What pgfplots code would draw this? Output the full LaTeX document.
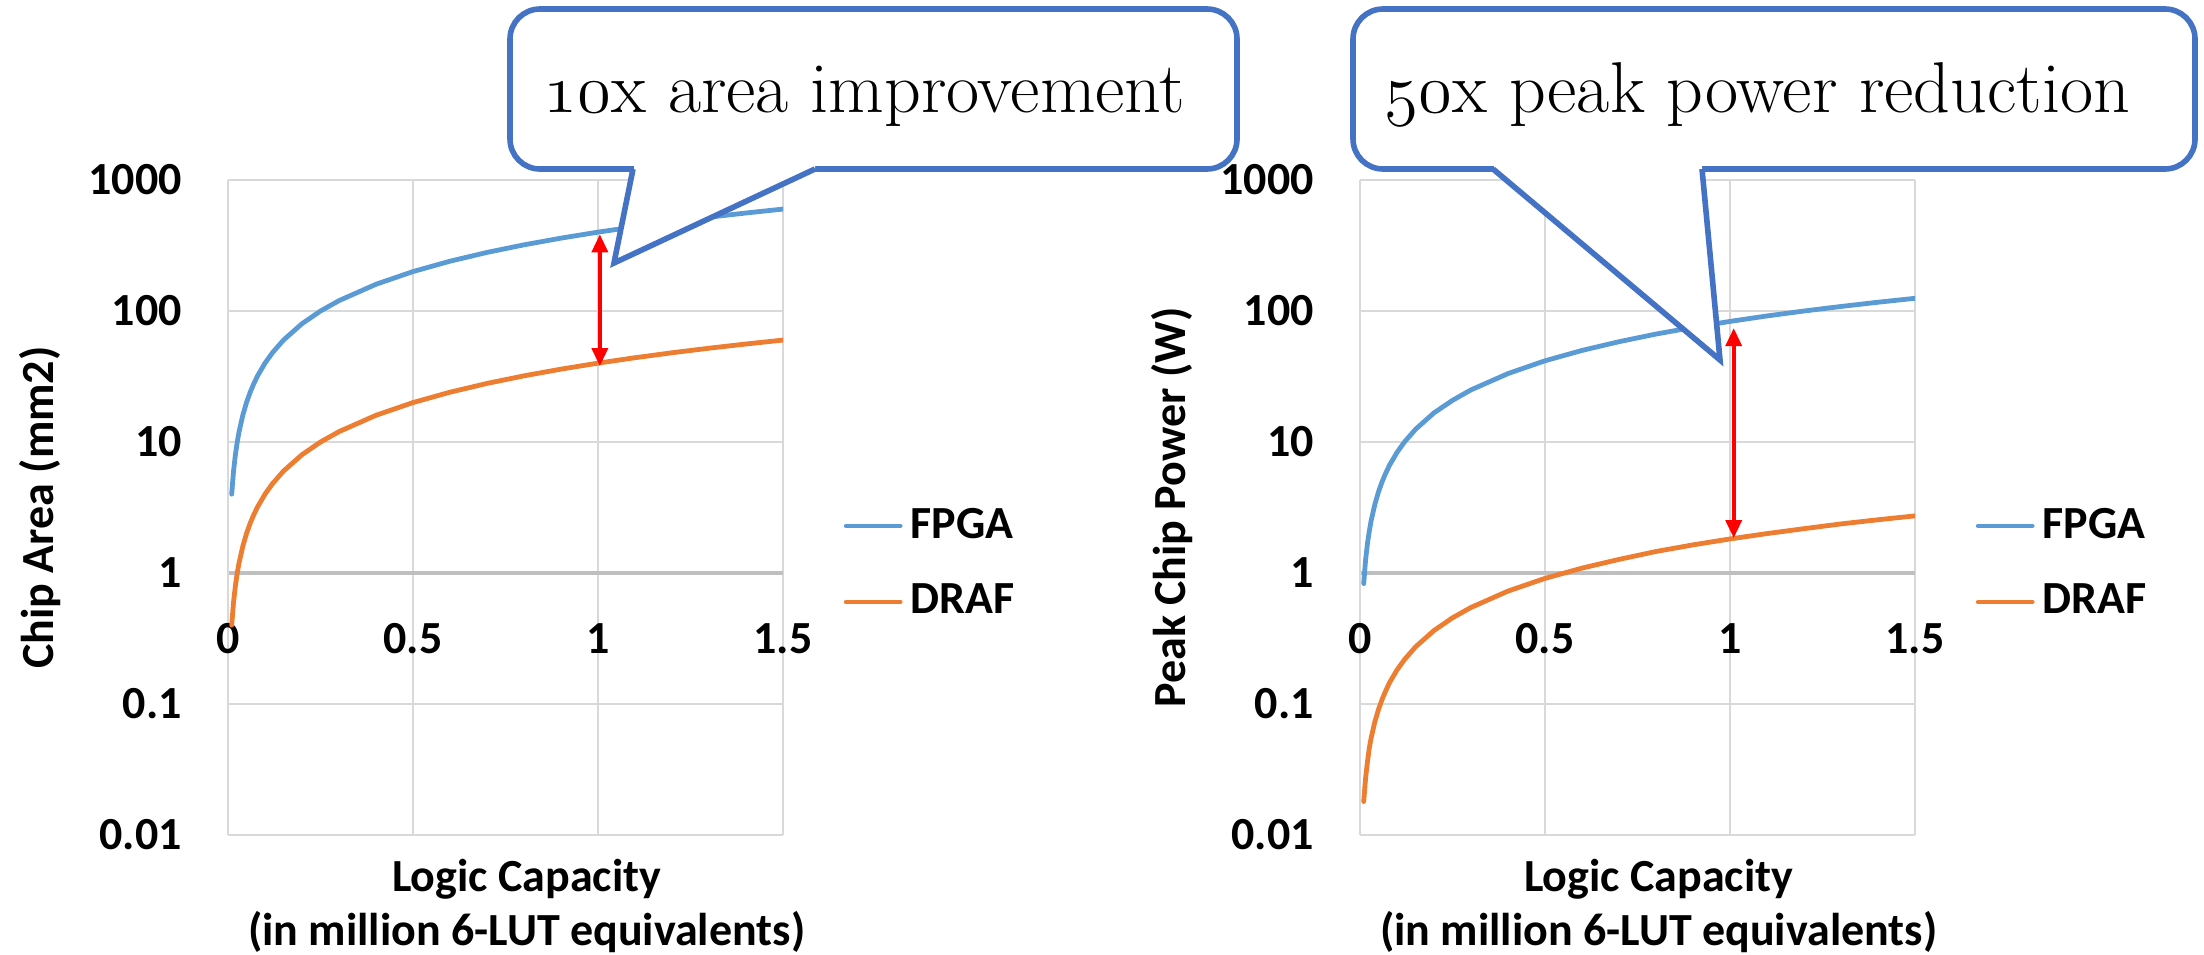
\documentclass[border=0pt]{standalone}
\usepackage{pgfplots}
\pgfplotsset{compat=1.18}
\usepackage{fontspec}
\newfontfamily\calibri{Carlito}
\usetikzlibrary{arrows.meta}
\definecolor{fpga}{HTML}{5B9BD5}
\definecolor{draf}{HTML}{ED7D31}
\definecolor{callout}{HTML}{4472C4}
\definecolor{gridc}{HTML}{D9D9D9}
\definecolor{axisc}{HTML}{BFBFBF}
\newcommand{\lblfont}{\calibri\bfseries\fontsize{11.5}{13.5}\selectfont}
\newcommand{\osf}[1]{{\usefont{OML}{cmm}{m}{it}#1}}
\pgfplotsset{
  legend image code/.code={\draw[#1] (0pt,0pt) -- (13.5pt,0pt);},
}
\pgfplotstableread{
x     area_fpga area_draf pow_fpga pow_draf
0.01  4    0.4   0.83  0.018
0.015 6    0.6   1.25  0.027
0.02  8    0.8   1.67  0.036
0.025 10   1.0   2.08  0.046
0.03  12   1.2   2.5   0.055
0.04  16   1.6   3.33  0.073
0.05  20   2.0   4.17  0.091
0.06  24   2.4   5.0   0.109
0.07  28   2.8   5.83  0.127
0.08  32   3.2   6.67  0.146
0.1   40   4.0   8.33  0.182
0.12  48   4.8   10    0.218
0.15  60   6.0   12.5  0.273
0.2   80   8.0   16.7  0.364
0.25  100  10    20.8  0.455
0.3   120  12    25    0.546
0.4   160  16    33.3  0.728
0.5   200  20    41.7  0.91
0.6   240  24    50    1.09
0.7   280  28    58.3  1.27
0.8   320  32    66.7  1.46
0.9   360  36    75    1.64
1.0   400  40    83.3  1.82
1.1   440  44    91.7  2.0
1.2   480  48    100   2.18
1.3   520  52    108.3 2.37
1.4   560  56    116.7 2.55
1.5   600  60    125   2.73
}\datatable
\begin{document}
\begin{tikzpicture}
\useasboundingbox (0,0) rectangle (551pt,-238.5pt);
% ---------------- left: chip area
\begin{axis}[at={(57pt,-208.75pt)}, anchor=south west,
    scale only axis, width=138.75pt, height=163.75pt,
    xmin=0, xmax=1.5, ymode=log, ymin=0.01, ymax=1000,
    axis x line=middle, axis y line=left,
    hide obscured x ticks=false,
    x axis line style={draw=axisc, line width=0.8pt, -},
    y axis line style={draw=gridc, line width=0.6pt, -},
    xtick={0,0.5,1,1.5}, xticklabels={0,0.5,1,1.5},
    ytick={0.01,0.1,1,10,100,1000}, yticklabels={0.01,0.1,1,10,100,1000},
    major tick length=0pt, minor tick length=0pt, minor ytick={},
    grid=major, major grid style={draw=gridc, line width=0.6pt},
    tick label style={font=\lblfont},
    xticklabel style={yshift=-9pt},
    yticklabel style={xshift=-8pt},
    xlabel style={at={(axis description cs:0.538,-0.015)}, anchor=north, align=center, font=\lblfont},
    ylabel style={at={(axis description cs:-0.338,0.5)}, anchor=center, font=\lblfont},
    legend style={draw=none, fill=none, at={(axis description cs:1,0.414)}, anchor=west, xshift=14pt,
      font=\lblfont, row sep=6pt, inner sep=1pt},
    legend cell align=left,
    every axis plot/.append style={line width=1.2pt, mark=none, line join=round, line cap=round},
  xlabel={Logic Capacity\\(in million 6-LUT equivalents)},
  ylabel={Chip Area (mm2)}]
\addplot[fpga] table[x=x, y=area_fpga] {\datatable};
\addlegendentry{FPGA}
\addplot[draf] table[x=x, y=area_draf] {\datatable};
\addlegendentry{DRAF}
\draw[red, line width=0.9pt, {Triangle[width=4pt,length=4.5pt]}-{Triangle[width=4pt,length=4.5pt]}] (axis cs:1.005,385) -- (axis cs:1.005,38);
\end{axis}
% ---------------- right: peak power
\begin{axis}[at={(340pt,-208.75pt)}, anchor=south west,
    scale only axis, width=138.75pt, height=163.75pt,
    xmin=0, xmax=1.5, ymode=log, ymin=0.01, ymax=1000,
    axis x line=middle, axis y line=left,
    hide obscured x ticks=false,
    x axis line style={draw=axisc, line width=0.8pt, -},
    y axis line style={draw=gridc, line width=0.6pt, -},
    xtick={0,0.5,1,1.5}, xticklabels={0,0.5,1,1.5},
    ytick={0.01,0.1,1,10,100,1000}, yticklabels={0.01,0.1,1,10,100,1000},
    major tick length=0pt, minor tick length=0pt, minor ytick={},
    grid=major, major grid style={draw=gridc, line width=0.6pt},
    tick label style={font=\lblfont},
    xticklabel style={yshift=-9pt},
    yticklabel style={xshift=-8pt},
    xlabel style={at={(axis description cs:0.538,-0.015)}, anchor=north, align=center, font=\lblfont},
    ylabel style={at={(axis description cs:-0.338,0.5)}, anchor=center, font=\lblfont},
    legend style={draw=none, fill=none, at={(axis description cs:1,0.414)}, anchor=west, xshift=14pt,
      font=\lblfont, row sep=6pt, inner sep=1pt},
    legend cell align=left,
    every axis plot/.append style={line width=1.2pt, mark=none, line join=round, line cap=round},
  xlabel={Logic Capacity\\(in million 6-LUT equivalents)},
  ylabel={Peak Chip Power (W)}]
\addplot[fpga] table[x=x, y=pow_fpga] {\datatable};
\addlegendentry{FPGA}
\addplot[draf] table[x=x, y=pow_draf] {\datatable};
\addlegendentry{DRAF}
\draw[red, line width=0.9pt, {Triangle[width=4pt,length=4.5pt]}-{Triangle[width=4pt,length=4.5pt]}] (axis cs:1.01,74) -- (axis cs:1.01,1.85);
\end{axis}
% ---------------- callouts (pixel coordinates)
\begin{scope}[x=0.25pt, y=-0.25pt, line width=1.4pt, line join=miter]
  \draw[callout, fill=white, rounded corners=7.5pt] (510,9) rectangle (1237,169);
  \fill[white] (634,163) -- (634,169) -- (614,263) -- (815,169) -- (815,163) -- cycle;
  \draw[callout] (633,169) -- (614,263) -- (815,169);
  \node[anchor=base west, inner sep=0pt, font=\fontsize{18}{21}\selectfont] at (541,112) {\osf{10}x area improvement};
  \draw[callout, fill=white, rounded corners=7.5pt] (1353,9) rectangle (2195,169);
  \fill[white] (1494,163) -- (1494,169) -- (1720,360) -- (1702,169) -- (1702,163) -- cycle;
  \draw[callout] (1493,169) -- (1720,360) -- (1702,169);
  \node[anchor=base west, inner sep=0pt, font=\fontsize{18}{21}\selectfont] at (1382,112) {\osf{50}x peak power reduction};
\end{scope}
\end{tikzpicture}
\end{document}
